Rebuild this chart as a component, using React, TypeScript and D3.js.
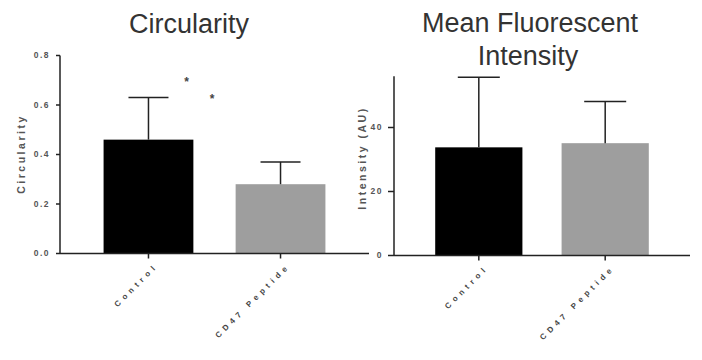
import React from "react";
import * as d3 from "d3";

const categories = ["Control", "CD47 Peptide"];
const circularityMean = [0.46, 0.28];
const circularitySD = [0.17, 0.09];
const circularityTicks = [0, 0.2, 0.4, 0.6, 0.8];
const intensityMean = [33.8, 35.1];
const intensitySD = [21.9, 13.0];
const intensityTicks = [0, 20, 40];
const barColors = ["#000000", "#9e9e9e"];
const asterisks = ["*", "*"];

const FONT = "'Liberation Sans', Arial, sans-serif";

type PanelProps = {
  means: number[];
  sds: number[];
  ticks: number[];
  yMax: number;
  xRange: [number, number];
  yRange: [number, number];
  padInner: number;
  padOuter: number;
  capW: number;
  tickFmt: (v: number) => string;
  tickLen: number;
  labelGap: number;
  yTitle: string;
  yTitleX: number;
  yTitleY: number;
};

function Panel(p: PanelProps) {
  const x = d3
    .scaleBand<string>()
    .domain(categories)
    .range(p.xRange)
    .paddingInner(p.padInner)
    .paddingOuter(p.padOuter);
  const y = d3.scaleLinear().domain([0, p.yMax]).range(p.yRange);
  const axisColor = "#222";
  const x0 = p.xRange[0];
  const y0 = y(0);
  return (
    <g>
      {categories.map((c, i) => {
        const bx = x(c)!;
        const bw = x.bandwidth();
        const cx = bx + bw / 2;
        const top = y(p.means[i]);
        const errTop = y(p.means[i] + p.sds[i]);
        return (
          <g key={c}>
            <rect x={bx} y={top} width={bw} height={y0 - top} fill={barColors[i]} />
            <line x1={cx} x2={cx} y1={top} y2={errTop} stroke={axisColor} strokeWidth={1.5} />
            <line x1={cx - p.capW / 2} x2={cx + p.capW / 2} y1={errTop} y2={errTop} stroke={axisColor} strokeWidth={1.5} />
            <line x1={cx} x2={cx} y1={y0} y2={y0 + 5} stroke={axisColor} strokeWidth={1.5} />
            <text
              transform={`translate(${cx + 10},${y0 + 13}) rotate(-45)`}
              textAnchor="end"
              fontFamily={FONT}
              fontSize={8}
              fontWeight="bold"
              letterSpacing={4.2}
              fill="#444"
            >
              {c}
            </text>
          </g>
        );
      })}
      <line x1={x0} x2={p.xRange[1]} y1={y0} y2={y0} stroke={axisColor} strokeWidth={1.5} />
      <line x1={x0} x2={x0} y1={y0} y2={y(p.yMax)} stroke={axisColor} strokeWidth={1.5} />
      {p.ticks.map((t) => (
        <g key={t}>
          <line x1={x0 - p.tickLen} x2={x0} y1={y(t)} y2={y(t)} stroke={axisColor} strokeWidth={1.5} />
          <text
            x={x0 - p.labelGap}
            y={y(t)}
            dy="0.35em"
            textAnchor="end"
            fontFamily={FONT}
            fontSize={8.5}
            fontWeight="bold"
            letterSpacing={1.5}
            fill="#555"
          >
            {p.tickFmt(t)}
          </text>
        </g>
      ))}
      <text
        transform={`translate(${p.yTitleX},${p.yTitleY}) rotate(-90)`}
        textAnchor="middle"
        fontFamily={FONT}
        fontSize={10.5}
        fontWeight="bold"
        letterSpacing={2.5}
        fill="#555"
      >
        {p.yTitle}
      </text>
    </g>
  );
}

export default function App() {
  return (
    <svg
      width={702}
      height={360}
      style={{ position: "absolute", left: 0, top: 0, background: "#fff" }}
    >
      <rect width={702} height={360} fill="#fff" />
      <text x={189} y={32.5} textAnchor="middle" fontFamily={FONT} fontSize={27} fill="#333">
        Circularity
      </text>
      <text x={530} y={32} textAnchor="middle" fontFamily={FONT} fontSize={27} fill="#333">
        Mean Fluorescent
      </text>
      <text x={528} y={65} textAnchor="middle" fontFamily={FONT} fontSize={27} fill="#333">
        Intensity
      </text>
      <Panel
        means={circularityMean}
        sds={circularitySD}
        ticks={circularityTicks}
        yMax={0.8}
        xRange={[60, 369]}
        yRange={[253.5, 55.5]}
        padInner={0.32}
        padOuter={0.33}
        capW={40}
        tickFmt={(v) => d3.format(".1f")(v)}
        tickLen={4}
        labelGap={10}
        yTitle="Circularity"
        yTitleX={25}
        yTitleY={154}
      />
      <Panel
        means={intensityMean}
        sds={intensitySD}
        ticks={intensityTicks}
        yMax={56}
        xRange={[394, 690]}
        yRange={[255.5, 255.5 - 56 * 3.2]}
        padInner={0.31}
        padOuter={0.326}
        capW={42}
        tickFmt={(v) => d3.format("d")(v)}
        tickLen={6}
        labelGap={11}
        yTitle="Intensity (AU)"
        yTitleX={366}
        yTitleY={158}
      />
      <text x={186.7} y={85.5} textAnchor="middle" fontFamily={FONT} fontSize={12} fontWeight="bold" fill="#444">
        {asterisks[0]}
      </text>
      <text x={212} y={102.5} textAnchor="middle" fontFamily={FONT} fontSize={12} fontWeight="bold" fill="#444">
        {asterisks[1]}
      </text>
    </svg>
  );
}
